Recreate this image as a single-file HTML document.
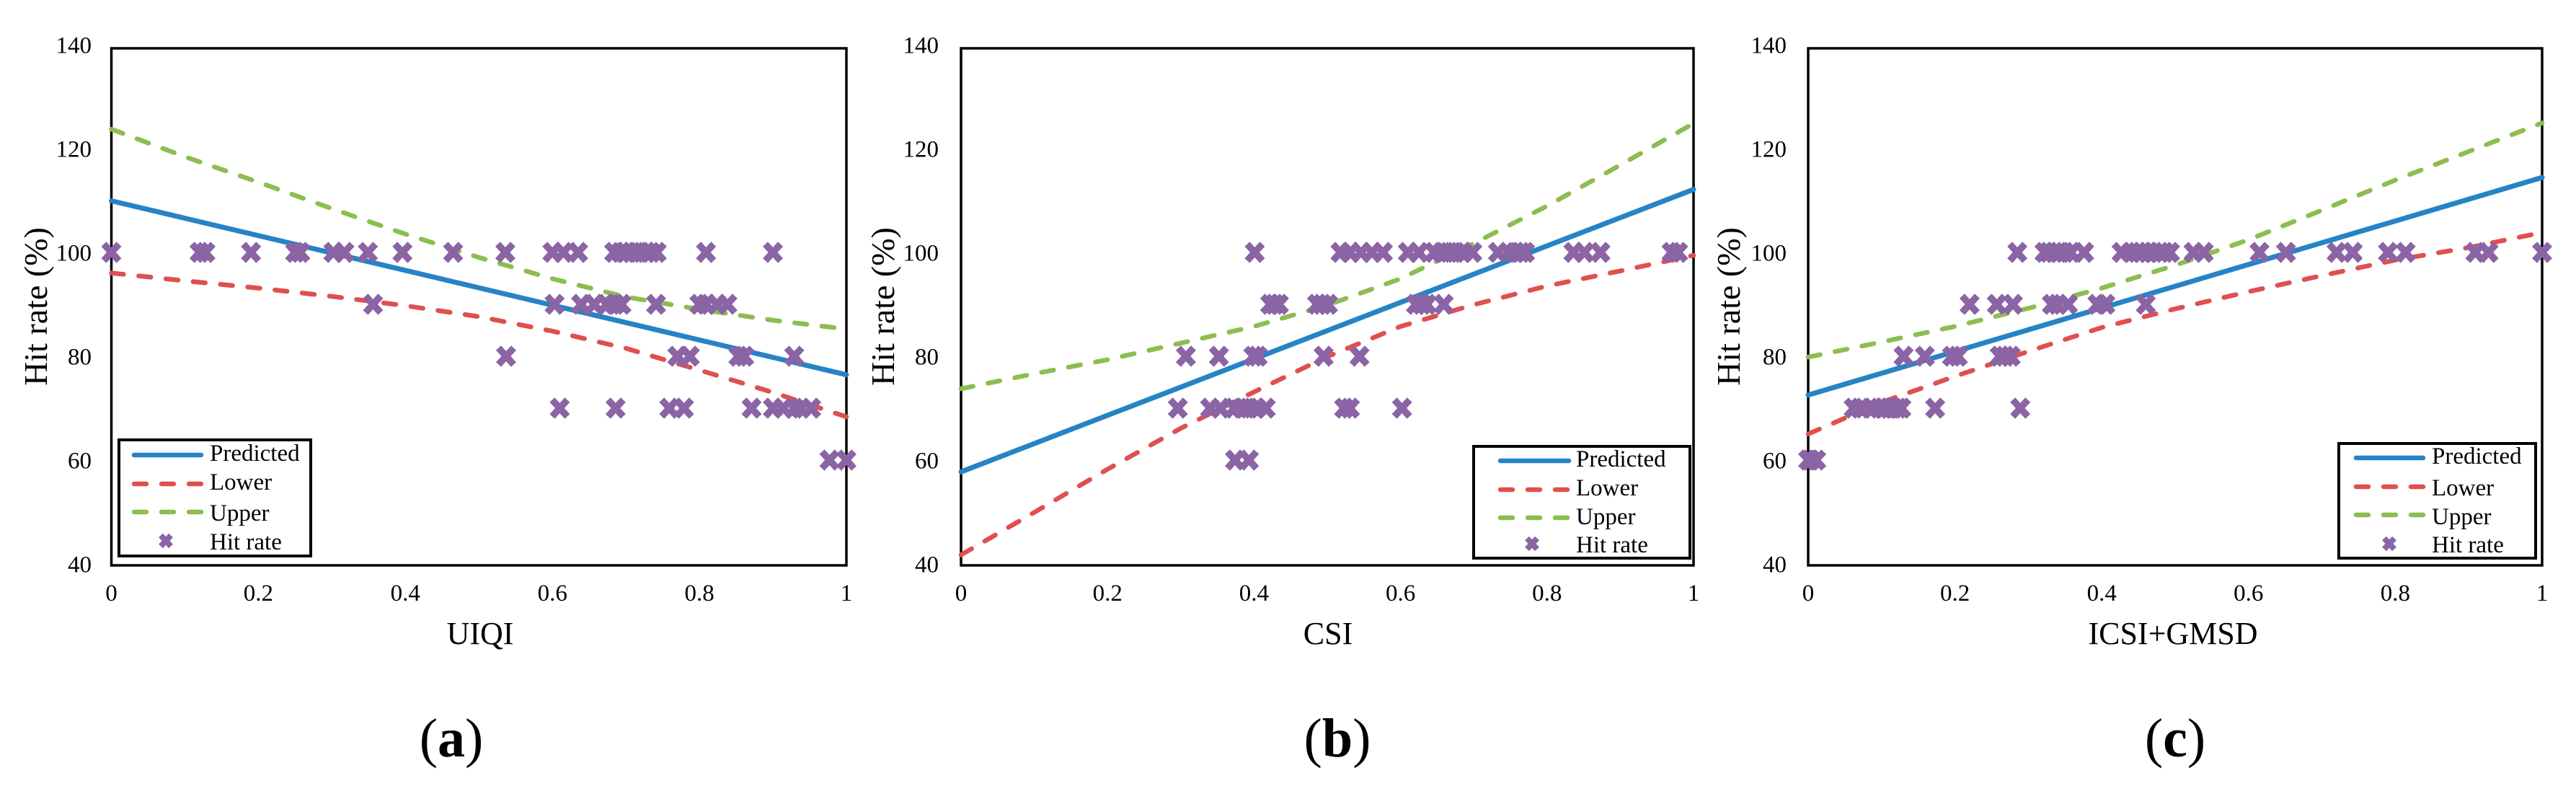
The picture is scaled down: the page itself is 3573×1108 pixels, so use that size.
<!DOCTYPE html>
<html lang="en">
<head>
<meta charset="utf-8">
<title>Hit rate regression charts</title>
<style>
  html, body { margin: 0; padding: 0; background: #fff; }
  svg { display: block; }
  text { font-family: "Liberation Serif", serif; fill: #000; }
</style>
</head>
<body>
<svg id="figure" xmlns="http://www.w3.org/2000/svg" width="3573" height="1108" viewBox="0 0 3573 1108">
  <rect width="3573" height="1108" fill="#fff"/>
</svg>
<script>
// Tick labels
const xTicks = [0, 0.2, 0.4, 0.6, 0.8, 1];
const yTicks = [40, 60, 80, 100, 120, 140];
const legendLabels = ['Predicted', 'Lower', 'Upper', 'Hit rate'];

// Shared x samples for the confidence bounds, and end points for the straight prediction line
const boundX = [0, 0.1, 0.2, 0.3, 0.4, 0.5, 0.6, 0.7, 0.8, 0.9, 1];
const predictedX = [0, 1];

// Panel (a) UIQI
const uiqiPredicted = [110.0, 76.5];
const uiqiLower = [96.1, 94.6, 93.2, 91.6, 89.8, 87.7, 84.9, 81.6, 77.4, 73.1, 68.4];
const uiqiUpper = [123.8, 118.5, 113.6, 108.5, 103.6, 99.1, 95.0, 91.5, 89.1, 87.0, 85.3];
const uiqiHit100 = [0, 0.12, 0.128, 0.19, 0.25, 0.257, 0.302, 0.317, 0.349, 0.396, 0.465, 0.536, 0.6, 0.615, 0.635, 0.684, 0.693, 0.7, 0.708, 0.717, 0.727, 0.734, 0.742, 0.809, 0.9];
const uiqiHit90 = [0.356, 0.603, 0.639, 0.657, 0.674, 0.685, 0.694, 0.741, 0.8, 0.809, 0.824, 0.838];
const uiqiHit80 = [0.537, 0.77, 0.787, 0.853, 0.861, 0.929];
const uiqiHit70 = [0.61, 0.686, 0.759, 0.779, 0.871, 0.9, 0.914, 0.929, 0.938, 0.952];
const uiqiHit60 = [0.977, 1.0];

// Panel (b) CSI
const csiPredicted = [57.8, 112.2];
const csiLower = [41.8, 50.0, 58.3, 66.2, 73.2, 80.0, 85.8, 90.0, 93.6, 96.5, 99.5];
const csiUpper = [73.8, 76.7, 79.4, 82.6, 85.8, 89.9, 95.0, 101.8, 109.0, 116.9, 124.9];
const csiHit100 = [0.401, 0.518, 0.531, 0.546, 0.561, 0.576, 0.61, 0.625, 0.646, 0.657, 0.666, 0.675, 0.685, 0.698, 0.733, 0.747, 0.757, 0.764, 0.77, 0.836, 0.851, 0.873, 0.97, 0.979];
const csiHit90 = [0.422, 0.428, 0.434, 0.486, 0.493, 0.501, 0.621, 0.629, 0.636, 0.659];
const csiHit80 = [0.307, 0.352, 0.399, 0.405, 0.495, 0.544];
const csiHit70 = [0.296, 0.34, 0.354, 0.373, 0.384, 0.393, 0.403, 0.416, 0.523, 0.531, 0.602];
const csiHit60 = [0.374, 0.393];

// Panel (c) ICSI+GMSD
const icsiPredicted = [72.6, 114.5];
const icsiLower = [65.1, 71.2, 76.2, 81.0, 85.6, 89.2, 92.5, 95.6, 98.6, 101.0, 103.9];
const icsiUpper = [79.9, 82.8, 85.8, 89.3, 93.2, 97.6, 102.5, 108.2, 114.0, 119.5, 125.0];
const icsiHit100 = [0.285, 0.322, 0.328, 0.335, 0.341, 0.349, 0.358, 0.376, 0.427, 0.44, 0.448, 0.455, 0.463, 0.471, 0.479, 0.485, 0.493, 0.525, 0.539, 0.615, 0.651, 0.72, 0.742, 0.79, 0.814, 0.909, 0.927, 1.0];
const icsiHit90 = [0.22, 0.257, 0.279, 0.332, 0.34, 0.354, 0.394, 0.405, 0.46];
const icsiHit80 = [0.13, 0.159, 0.196, 0.204, 0.261, 0.268, 0.276];
const icsiHit70 = [0.062, 0.071, 0.088, 0.097, 0.104, 0.11, 0.116, 0.122, 0.127, 0.173, 0.289];
const icsiHit60 = [0, 0.003, 0.011];

const hitLevels = [100, 90, 80, 70, 60];

const COLORS = { predicted: '#2683c6', lower: '#e04f4f', upper: '#8dbd50', hit: '#8b64a5' };
const SVG_NS = 'http://www.w3.org/2000/svg';
const figure = document.getElementById('figure');

// Vertical axis shared by all panels
function yScale(v) { return 782.5 - (v - 40) * 7.2; }

function mk(tag, parent, attrs) {
  const el = document.createElementNS(SVG_NS, tag);
  for (const k in attrs) el.setAttribute(k, attrs[k]);
  parent.appendChild(el);
  return el;
}

function polyPoints(xs, ys, xScale) {
  return xs.map((x, i) => xScale(x).toFixed(1) + ',' + yScale(ys[i]).toFixed(1)).join(' ');
}

function crossPath(cx, cy, hw, hh) {
  return 'M' + (cx - hw) + ' ' + (cy - hh) + 'L' + (cx + hw) + ' ' + (cy + hh) +
         'M' + (cx - hw) + ' ' + (cy + hh) + 'L' + (cx + hw) + ' ' + (cy - hh);
}

const panels = [
  { id: 'uiqi', left: 154.5, right: 1174, tickRight: 127, titleBase: 65, xTitle: 'UIQI', xTitleCx: 666,
    caption: 'a', captionCx: 626, predicted: uiqiPredicted, lower: uiqiLower, upper: uiqiUpper,
    hits: [uiqiHit100, uiqiHit90, uiqiHit80, uiqiHit70, uiqiHit60],
    legend: { x: 165, y: 610, w: 266, h: 161, lineX1: 186, lineX2: 279, markX: 230, textX: 291,
              lineY: [631, 671, 710], markY: 750, textY: [639, 679, 722, 762] } },
  { id: 'csi', left: 1333, right: 2349, tickRight: 1302, titleBase: 1240, xTitle: 'CSI', xTitleCx: 1842,
    caption: 'b', captionCx: 1855, predicted: csiPredicted, lower: csiLower, upper: csiUpper,
    hits: [csiHit100, csiHit90, csiHit80, csiHit70, csiHit60],
    legend: { x: 2044, y: 619, w: 300, h: 155, lineX1: 2081, lineX2: 2176, markX: 2125, textX: 2186,
              lineY: [639, 679, 718], markY: 754, textY: [647, 687, 727, 766] } },
  { id: 'icsi-gmsd', left: 2508, right: 3526, tickRight: 2478, titleBase: 2413, xTitle: 'ICSI+GMSD', xTitleCx: 3014,
    caption: 'c', captionCx: 3017, predicted: icsiPredicted, lower: icsiLower, upper: icsiUpper,
    hits: [icsiHit100, icsiHit90, icsiHit80, icsiHit70, icsiHit60],
    legend: { x: 3244, y: 615, w: 273, h: 159, lineX1: 3268, lineX2: 3361, markX: 3314, textX: 3373,
              lineY: [635, 675, 714], markY: 754, textY: [643, 687, 727, 766] } }
];

const FRAME_TOP = 67, FRAME_BOTTOM = 784;

panels.forEach(function (p) {
  const xScale = function (v) { return p.left + v * (p.right - p.left); };

  const g = mk('g', figure, {});
  
  

  const frame = mk('rect', g, { x: p.left, y: FRAME_TOP, width: p.right - p.left, height: FRAME_BOTTOM - FRAME_TOP, fill: 'none', stroke: '#000', 'stroke-width': 3.5 });
  
  

  yTicks.forEach(function (t) {
    const label = mk('text', g, { x: p.tickRight, y: (yScale(t) + 11).toFixed(1), 'text-anchor': 'end', 'font-size': 33 });
    
    
    label.textContent = t;
  });

  xTicks.forEach(function (t) {
    const label = mk('text', g, { x: xScale(t).toFixed(1), y: 833, 'text-anchor': 'middle', 'font-size': 33 });
    
    
    label.textContent = t;
  });

  const yTitle = mk('text', g, { transform: 'translate(' + p.titleBase + ',425) rotate(-90)', 'text-anchor': 'middle', 'font-size': 46 });
  
  
  yTitle.textContent = 'Hit rate (%)';

  const xTitle = mk('text', g, { x: p.xTitleCx, y: 893, 'text-anchor': 'middle', 'font-size': 44 });
  
  
  xTitle.textContent = p.xTitle;

  const predictedLine = mk('polyline', g, { points: polyPoints(predictedX, p.predicted, xScale), fill: 'none', stroke: COLORS.predicted, 'stroke-width': 7, 'stroke-linecap': 'round' });
  
  

  const lowerLine = mk('polyline', g, { points: polyPoints(boundX, p.lower, xScale), fill: 'none', stroke: COLORS.lower, 'stroke-width': 6.5, 'stroke-linecap': 'round', 'stroke-linejoin': 'round', 'stroke-dasharray': '17 21' });
  
  

  const upperLine = mk('polyline', g, { points: polyPoints(boundX, p.upper, xScale), fill: 'none', stroke: COLORS.upper, 'stroke-width': 6.5, 'stroke-linecap': 'round', 'stroke-linejoin': 'round', 'stroke-dasharray': '17 21' });
  
  

  p.hits.forEach(function (xs, li) {
    xs.forEach(function (x) {
      const mark = mk('path', g, { d: crossPath(xScale(x), yScale(hitLevels[li]) - 0.5, 10.5, 11.5), fill: 'none', stroke: COLORS.hit, 'stroke-width': 9.5 });
      
      
    });
  });

  const lg = p.legend;
  const legend = mk('g', g, {});
  
  

  const box = mk('rect', legend, { x: lg.x, y: lg.y, width: lg.w, height: lg.h, fill: '#fff', stroke: '#000', 'stroke-width': 4 });
  
  

  const swatchColors = [COLORS.predicted, COLORS.lower, COLORS.upper];
  swatchColors.forEach(function (c, i) {
    const swatch = mk('line', legend, { x1: lg.lineX1, x2: lg.lineX2, y1: lg.lineY[i], y2: lg.lineY[i], stroke: c, 'stroke-width': 6.5, 'stroke-linecap': 'round' });
    if (i > 0) swatch.setAttribute('stroke-dasharray', '17 21');
    
    
  });

  const legendMark = mk('path', legend, { d: crossPath(lg.markX, lg.markY, 7, 7.5), fill: 'none', stroke: COLORS.hit, 'stroke-width': 8 });
  
  

  legendLabels.forEach(function (name, i) {
    const lt = mk('text', legend, { x: lg.textX, y: lg.textY[i], 'font-size': 33 });
    
    
    lt.textContent = name;
  });

  const cap = mk('text', g, { x: p.captionCx, y: 1049, 'text-anchor': 'middle', 'font-size': 76 });
  
  
  const open = mk('tspan', cap, {});
  open.textContent = '(';
  const letter = mk('tspan', cap, { 'font-weight': 'bold' });
  letter.textContent = p.caption;
  const close = mk('tspan', cap, {});
  close.textContent = ')';
});
</script>
</body>
</html>
